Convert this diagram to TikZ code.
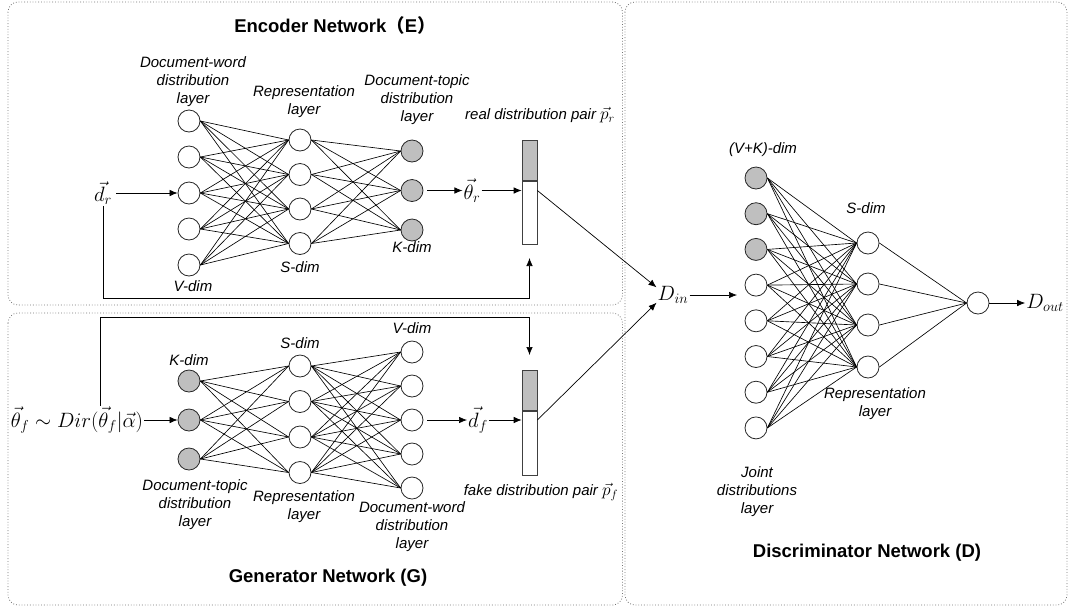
\documentclass[tikz,border=0pt]{standalone}
\usepackage{amsmath}
\usepackage{amssymb}
\usepackage{fontspec}
\setmainfont{Liberation Sans}
\newfontfamily\cjk{Noto Sans CJK SC}
\usetikzlibrary{arrows.meta}

\begin{document}
\begin{tikzpicture}[yscale=-1, x=1pt, y=1pt,
		unit/.style={circle, draw=black!85, line width=0.8pt, minimum size=22pt, inner sep=0pt, fill=white},
		grayunit/.style={unit, fill=black!25},
		link/.style={line width=0.65pt},
		arr/.style={-{Latex[length=8pt,width=6.5pt]}, line width=0.7pt},
		lbl/.style={font=\fontsize{15}{18}\selectfont\itshape, align=center, inner sep=0pt},
		mth/.style={font=\fontsize{20}{24}\selectfont, inner sep=1pt},
		netname/.style={font=\fontsize{18.5}{22}\selectfont\bfseries},
		panel/.style={draw=black!55, dotted, line width=0.8pt, rounded corners=10pt},
		bartop/.style={draw=black!75, fill=black!25, line width=0.7pt, minimum width=15pt, minimum height=40pt, inner sep=0pt, anchor=north},
		barbot/.style={draw=black!75, fill=white, line width=0.7pt, minimum width=15pt, inner sep=0pt, anchor=north}]

		\useasboundingbox (0,0) rectangle (1070,606);

		% panels
		\draw [panel] (8,2) rectangle (622.5,305);
		\draw [panel] (8,313) rectangle (622.5,605);
		\draw [panel] (625,2) rectangle (1067,605);

		% encoder
		\node [netname] (etitle) at (335,25) {Encoder Network{\cjk（}E{\cjk）}};
		\foreach \i in {1,...,5}
			\node [unit] (ev\i) at (189,{121+36*(\i-1)}) {};
		\foreach \i/\y in {1/140, 2/174.5, 3/209, 4/243.5}
			\node [unit] (es\i) at (300,\y) {};
		\foreach \i/\y in {1/151, 2/190.5, 3/230}
			\node [grayunit] (ek\i) at (412,\y) {};
		\foreach \i in {1,...,5}
			\foreach \j in {1,...,4}
				\draw [link] (ev\i.east) -- (es\j.west);
		\foreach \i in {1,...,4}
			\foreach \j in {1,...,3}
				\draw [link] (es\i.east) -- (ek\j.west);

		\node [lbl] (evlbl) at (193,82) {Document-word\\distribution\\layer};
		\node [lbl] (eslbl) at (304,102) {Representation\\layer};
		\node [lbl] (eklbl) at (417,100) {Document-topic\\distribution\\layer};
		\node [lbl] (evdim) at (193,286) {V-dim};
		\node [lbl] (esdim) at (300,267) {S-dim};
		\node [lbl] (ekdim) at (412,247) {K-dim};

		\node [mth] (drin) at (103,193) {$\vec{d}_r$};
		\node [mth] (thr) at (472,190.5) {$\vec{\theta}_r$};
		\node [bartop] (prtop) at (529.5,140) {};
		\node [barbot, minimum height=63pt] (prbot) at (prtop.south) {};
		\node [lbl] (prlbl) at (540,115) {real distribution pair {\fontsize{17}{20}\selectfont$\vec{p}_r$}};

		\draw [arr, shorten <=3pt] (drin.east |- ev3) -- (ev3);
		\draw [arr, shorten <=4pt] (ek2) -- (thr);
		\draw [arr] (thr) -- (thr -| prbot.west);
		\coordinate (rturn) at (103,298);
		\coordinate (rin) at (529.5,258);
		\draw [arr] (drin) -- (rturn) -| (rin);

		% generator
		\node [netname] (gtitle) at (328,578) {Generator Network (G)};
		\foreach \i/\y in {1/381, 2/420, 3/459}
			\node [grayunit] (gk\i) at (189,\y) {};
		\foreach \i/\y in {1/366, 2/401.5, 3/437, 4/472.5}
			\node [unit] (gs\i) at (300,\y) {};
		\foreach \i in {1,...,5}
			\node [unit] (gv\i) at (412,{352+34*(\i-1)}) {};
		\foreach \i in {1,...,3}
			\foreach \j in {1,...,4}
				\draw [link] (gk\i.east) -- (gs\j.west);
		\foreach \i in {1,...,4}
			\foreach \j in {1,...,5}
				\draw [link] (gs\i.east) -- (gv\j.west);

		\node [lbl] (gkdim) at (189,360) {K-dim};
		\node [lbl] (gsdim) at (300,343) {S-dim};
		\node [lbl] (gvdim) at (412,328) {V-dim};
		\node [lbl] (gklbl) at (195,505) {Document-topic\\distribution\\layer};
		\node [lbl] (gslbl) at (304,507) {Representation\\layer};
		\node [lbl] (gvlbl) at (412,527) {Document-word\\distribution\\layer};

		\node [mth] (thf) at (77,420) {$\vec{\theta}_f \sim Dir(\vec{\theta}_f|\vec{\alpha})$};
		\node [mth] (df) at (478,420) {$\vec{d}_f$};
		\node [bartop] (pftop) at (529.5,370) {};
		\node [barbot, minimum height=64pt] (pfbot) at (pftop.south) {};
		\node [lbl] (pflbl) at (541,492) {fake distribution pair {\fontsize{17}{20}\selectfont$\vec{p}_f$}};

		\draw [arr] (thf) -- (gk2);
		\draw [arr, shorten <=4pt] (gv3) -- (df);
		\draw [arr] (df) -- (df -| pfbot.west);
		\coordinate (fturn) at (100,317);
		\coordinate (fin) at (529.5,355);
		\draw [arr] (thf.north -| fturn) -- (fturn) -| (fin);

		% discriminator
		\node [netname] (dtitle) at (867,553) {Discriminator Network (D)};
		\foreach \i/\s in {1/grayunit, 2/grayunit, 3/grayunit, 4/unit, 5/unit, 6/unit, 7/unit, 8/unit}
			\node [\s] (dj\i) at (756,{178+35.7*(\i-1)}) {};
		\foreach \i/\y in {1/243, 2/284, 3/325, 4/367}
			\node [unit] (dh\i) at (868,\y) {};
		\node [unit] (dy) at (978,303) {};
		\foreach \i in {1,...,8}
			\foreach \j in {1,...,4}
				\draw [link] (dj\i.east) -- (dh\j.west);
		\foreach \j in {1,...,4}
			\draw [link] (dh\j.east) -- (dy.west);

		\node [lbl] (djdim) at (763,150) {(V+K)-dim};
		\node [lbl] (dhdim) at (866,208) {S-dim};
		\node [lbl] (dhlbl) at (875,404) {Representation\\layer};
		\node [lbl] (djlbl) at (757,492) {Joint\\distributions\\layer};

		\node [mth] (din) at (673,295) {$D_{in}$};
		\node [mth] (dout) at (1045,303) {$D_{out}$};
		\coordinate (djin) at (737,295);
		\draw [arr] (thr -| prbot.east) -- (din.155);
		\draw [arr] (df -| pfbot.east) -- (din.205);
		\draw [arr] (din) -- (djin);
		\draw [arr] (dy) -- (dout);

	\end{tikzpicture}
\end{document}
